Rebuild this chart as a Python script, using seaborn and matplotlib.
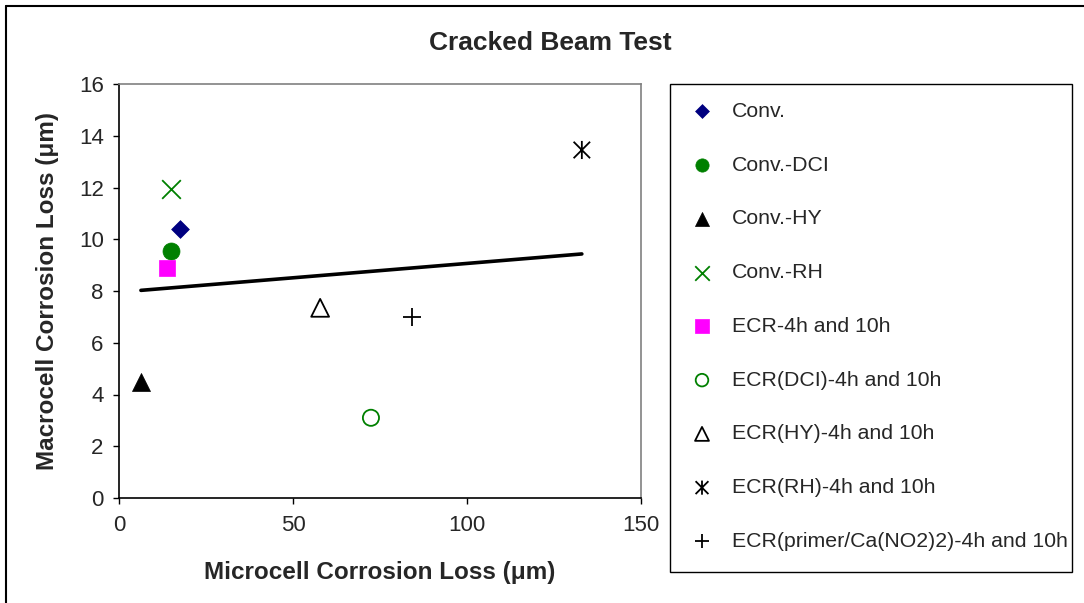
import numpy as np
import pandas as pd
import matplotlib
matplotlib.use("Agg")
import matplotlib.pyplot as plt
from matplotlib.path import Path
from matplotlib.lines import Line2D
from matplotlib.patches import Rectangle
import seaborn as sns

# Specimen groups and their measured losses (micrometres)
groups = [
    "Conv.", "Conv.-DCI", "Conv.-HY", "Conv.-RH", "ECR-4h and 10h",
    "ECR(DCI)-4h and 10h", "ECR(HY)-4h and 10h", "ECR(RH)-4h and 10h",
    "ECR(primer/Ca(NO2)2)-4h and 10h",
]
microcell = [17.5, 14.9, 6.3, 14.9, 13.8, 72.4, 57.8, 133.0, 84.2]
macrocell = [10.4, 9.55, 4.5, 11.95, 8.9, 3.1, 7.35, 13.45, 7.0]

x_ticks = [0, 50, 100, 150]
y_ticks = [0, 2, 4, 6, 8, 10, 12, 14, 16]

# X with a vertical stroke through it
star_path = Path(
    [(-1, -1), (1, 1), (-1, 1), (1, -1), (0, -1.1), (0, 1.1)],
    [Path.MOVETO, Path.LINETO, Path.MOVETO, Path.LINETO, Path.MOVETO, Path.LINETO],
)

# marker, colour, kind, size
styles = [
    ("D", "#000080", "filled", 82),
    ("o", "#008000", "filled", 150),
    ("^", "#000000", "filled", 168),
    ("x", "#008000", "line", 180),
    ("s", "#FF00FF", "filled", 145),
    ("o", "#008000", "open", 135),
    ("^", "#000000", "open", 165),
    (star_path, "#000000", "open", 170),
    ("+", "#000000", "line", 170),
]

df = pd.DataFrame({"group": groups, "micro": microcell, "macro": macrocell})

sns.set_style("white")
plt.rcParams["font.family"] = ["Liberation Sans", "DejaVu Sans"]

W, H = 1084, 603
fig = plt.figure(figsize=(W / 100, H / 100), dpi=100)
ax = fig.add_axes([119 / W, 1 - 498 / H, (641 - 119) / W, (498 - 84) / H])

for (g, xv, yv), (mk, col, kind, size) in zip(df.itertuples(index=False), styles):
    if kind == "filled":
        sns.scatterplot(x=[xv], y=[yv], marker=mk, color=col, s=size,
                        edgecolor=col, linewidth=0.5, label=g, ax=ax, zorder=3)
    elif kind == "open":
        sns.scatterplot(x=[xv], y=[yv], marker=mk, s=size, facecolor="none",
                        edgecolor=col, linewidth=1.3, label=g, ax=ax, zorder=3)
    else:
        sns.scatterplot(x=[xv], y=[yv], marker=mk, s=size, color=col,
                        linewidth=1.3, label=g, ax=ax, zorder=3)

# Linear trend through all groups
sns.regplot(data=df, x="micro", y="macro", scatter=False, ci=None, truncate=True,
            line_kws={"color": "black", "lw": 2.6, "solid_capstyle": "round"}, ax=ax)

ax.set_xlim(0, 150)
ax.set_ylim(0, 16)
ax.set_xticks(x_ticks)
ax.set_yticks(y_ticks)
ax.tick_params(axis="both", labelsize=16, direction="out", length=4, width=1,
               color="black", left=True, bottom=True)
ax.tick_params(axis="x", pad=8)
ax.tick_params(axis="y", pad=7)

for side in ("left", "bottom"):
    ax.spines[side].set_color("black")
    ax.spines[side].set_linewidth(1.2)
for side in ("top", "right"):
    ax.spines[side].set_color("#808080")
    ax.spines[side].set_linewidth(1.2)

ax.set_xlabel("Microcell Corrosion Loss (\u03bcm)", fontsize=17.5, fontweight="bold", labelpad=18)
ax.set_ylabel("Macrocell Corrosion Loss (\u03bcm)", fontsize=17.5, fontweight="bold", labelpad=14)

fig.text(550 / W, 1 - 43 / H, "Cracked Beam Test", ha="center", va="center",
         fontsize=19, fontweight="bold")

# Legend box spanning the right-hand panel
fig.add_artist(Rectangle((670 / W, 1 - 572 / H), (1072 - 670) / W, (572 - 84) / H,
                         transform=fig.transFigure, facecolor="none",
                         edgecolor="black", lw=1.0))

handles, labels = ax.get_legend_handles_labels()
if ax.get_legend():
    ax.get_legend().remove()
fs_leg = 15.3
fs_px = fs_leg / 72 * 100
hl = 2.0
leg = fig.legend(handles, labels, loc="upper left",
                 bbox_to_anchor=((702 - hl * fs_px / 2) / W, 1 - 102 / H),
                 fontsize=fs_leg, markerscale=0.78, frameon=False,
                 borderpad=0, labelspacing=1.635, handlelength=hl,
                 handletextpad=0.42, borderaxespad=0)

# Outer chart frame (left and top edges)
fig.add_artist(Line2D([6 / W, 6 / W], [0, 1 - 6 / H], color="black", lw=1.5,
                      transform=fig.transFigure))
fig.add_artist(Line2D([6 / W, 1], [1 - 6 / H, 1 - 6 / H], color="black", lw=1.5,
                      transform=fig.transFigure))

fig.savefig("out.png", dpi=100)
